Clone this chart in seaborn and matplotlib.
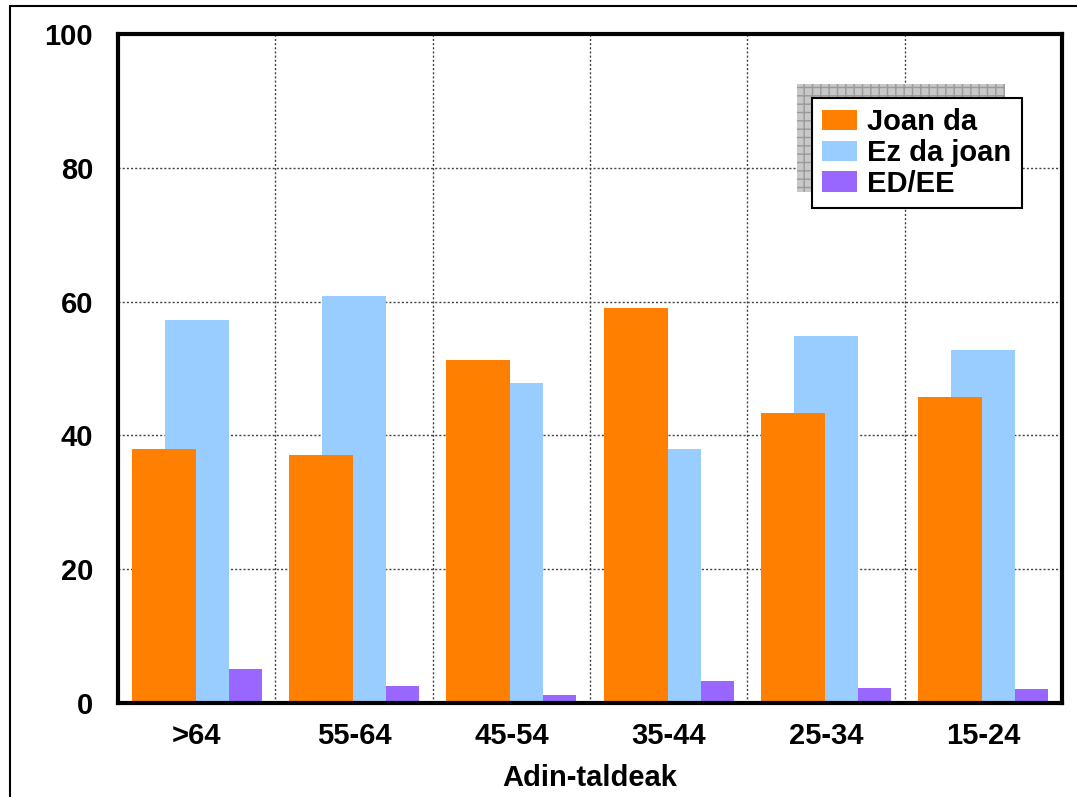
import numpy as np
import pandas as pd
import matplotlib
matplotlib.use("Agg")
import matplotlib.pyplot as plt
import seaborn as sns
from matplotlib.patches import Rectangle, Patch
from matplotlib.lines import Line2D

categories = [">64", "55-64", "45-54", "35-44", "25-34", "15-24"]
joan_da = [38.0, 37.0, 51.2, 59.1, 43.4, 45.7]
ez_da_joan = [57.2, 60.8, 47.9, 38.0, 54.8, 52.7]
ed_ee = [5.1, 2.5, 1.2, 3.3, 2.2, 2.1]
series_names = ["Joan da", "Ez da joan", "ED/EE"]
colors = ["#FF8000", "#99CCFF", "#9966FF"]
yticks = [0, 20, 40, 60, 80, 100]
xlabel = "Adin-taldeak"

sns.set_style("white")
plt.rcParams['font.family'] = ['Liberation Sans', 'DejaVu Sans']
plt.rcParams['font.weight'] = 'bold'
plt.rcParams['text.color'] = 'black'
plt.rcParams['hatch.color'] = '#999999'
plt.rcParams['hatch.linewidth'] = 1.0

W, H = 1077, 797
fig = plt.figure(figsize=(W/100, H/100), dpi=100)
ax = fig.add_axes([118/W, 1-703/H, (1062-118)/W, (703-34)/H])

offsets = [-0.21, 0.0, 0.21]
width = 0.407
pos = np.arange(len(categories))
zorders = [4, 3, 2]
for vals, off, col, name, z in zip([joan_da, ez_da_joan, ed_ee], offsets, colors, series_names, zorders):
    df = pd.DataFrame({"x": pos + off, "y": vals})
    sns.barplot(data=df, x="x", y="y", native_scale=True, width=width,
                color=col, saturation=1, linewidth=0, ax=ax, zorder=z, errorbar=None)

FS = 21
ax.set_xlim(-0.5, len(categories) - 0.5)
ax.set_ylim(0, 100)
ax.set_yticks(yticks)
ax.set_yticklabels([str(t) for t in yticks], fontsize=FS, fontweight='bold', color='black')
ax.set_xticks(pos)
ax.set_xticklabels(categories, fontsize=FS, fontweight='bold', color='black')
ax.tick_params(axis='both', length=0)
ax.tick_params(axis='y', pad=18)
ax.tick_params(axis='x', pad=14)
ax.set_xlabel(xlabel, fontsize=FS, fontweight='bold', labelpad=10, color='black')
ax.set_ylabel("")

# grid lines
for yv in yticks[1:-1]:
    ax.axhline(yv, color='#444444', linestyle=(0, (1.5, 1.5)), linewidth=1, zorder=1)
for xv in np.arange(0.5, len(categories) - 0.5, 1):
    ax.axvline(xv, color='#444444', linestyle=(0, (1.5, 1.5)), linewidth=1, zorder=1)

for sp in ax.spines.values():
    sp.set_visible(True)
    sp.set_color('black')
    sp.set_linewidth(3)
    sp.set_zorder(6)

# legend shadow
shadow = Rectangle((797/W, 1-192/H), (1005-797)/W, (192-84)/H, transform=fig.transFigure,
                   facecolor='#C8C8C8', edgecolor='#999999', hatch='++', linewidth=0,
                   zorder=8, clip_on=False)
ax.add_artist(shadow)

handles = [Patch(facecolor=c, edgecolor='none') for c in colors]
leg = ax.legend(handles, series_names, loc='upper left',
                bbox_to_anchor=(812/W, 1-98/H), bbox_transform=fig.transFigure,
                borderaxespad=0, frameon=True, fancybox=False, shadow=False,
                prop={'size': FS, 'weight': 'bold'}, handlelength=1.2, handleheight=0.72,
                handletextpad=0.35, labelspacing=0.1, borderpad=0.35)
leg.get_frame().set_edgecolor('black')
leg.get_frame().set_linewidth(1.5)
leg.get_frame().set_facecolor('white')
leg.get_frame().set_alpha(1)
leg.set_zorder(10)
for t in leg.get_texts():
    t.set_color('black')

# outer figure border (top and left)
fig.add_artist(Line2D([10/W, 10/W], [0, 1-6/H], transform=fig.transFigure, color='black', linewidth=1.5))
fig.add_artist(Line2D([10/W, 1], [1-6/H, 1-6/H], transform=fig.transFigure, color='black', linewidth=1.5))

fig.savefig("out.png", dpi=100)
